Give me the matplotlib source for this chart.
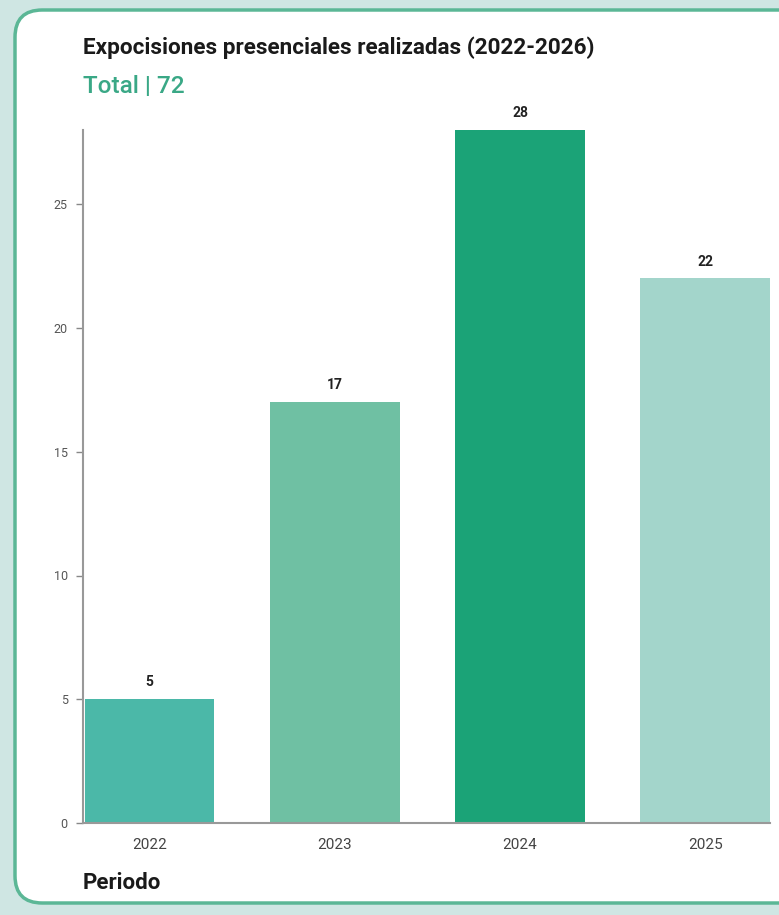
import matplotlib.pyplot as plt
from matplotlib.patches import FancyBboxPatch

years = ["2022", "2023", "2024", "2025"]
counts = [5, 17, 28, 22]
bar_colors = ["#4bb8a8", "#6fc0a3", "#1ba377", "#a3d5cb"]
title = "Expocisiones presenciales realizadas (2022-2026)"
subtitle = "Total | 72"

W, H = 779, 915
fig = plt.figure(figsize=(W / 100, H / 100), dpi=100)
fig.patch.set_facecolor("#cfe6e3")

# white card with green border, runs off the right edge
card = FancyBboxPatch((15 / W, 12 / H), 800 / W, 893 / H,
                      boxstyle="round,pad=0,rounding_size=0.035",
                      transform=fig.transFigure, facecolor="white",
                      edgecolor="#5bb796", linewidth=2.5,
                      mutation_aspect=W / H, zorder=-10)
fig.patches.append(card)

ax = fig.add_axes([83 / W, 1 - 823 / H, 687 / W, 693 / H])
ax.set_facecolor("none")

x = range(len(years))
bars = ax.bar(x, counts, width=0.7, color=bar_colors)
for b, v in zip(bars, counts):
    ax.text(b.get_x() + b.get_width() / 2, v + 0.4, str(v), ha="center",
            va="bottom", fontsize=10, fontweight="bold", color="#222222",
            family="Roboto")

ax.set_xlim(-0.36, 3.35)
ax.set_ylim(0, 28)
ax.set_xticks(list(x))
ax.set_xticklabels(years)
ax.set_yticks([0, 5, 10, 15, 20, 25])
ax.tick_params(axis="x", length=0, pad=11, labelsize=11, labelcolor="#444444")
ax.tick_params(axis="y", length=5, width=1, color="#888888", pad=6,
               labelsize=9, labelcolor="#555555")
for lab in ax.get_xticklabels() + ax.get_yticklabels():
    lab.set_family("Roboto")
for s in ["top", "right"]:
    ax.spines[s].set_visible(False)
for s in ["left", "bottom"]:
    ax.spines[s].set_color("#999999")
    ax.spines[s].set_linewidth(1.5)

fig.text(83 / W, 1 - 48 / H, title, fontsize=16.2, fontweight="bold",
         color="#1a1a1a", va="center", family="Roboto")
fig.text(83 / W, 1 - 87 / H, subtitle, fontsize=17.5, fontweight="medium",
         color="#3aa886", va="center", family="Roboto")
fig.text(83 / W, 1 - 883 / H, "Periodo", fontsize=16, fontweight="bold",
         color="#1a1a1a", va="center", family="Roboto")

fig.savefig("out.png", dpi=100, facecolor=fig.get_facecolor())
